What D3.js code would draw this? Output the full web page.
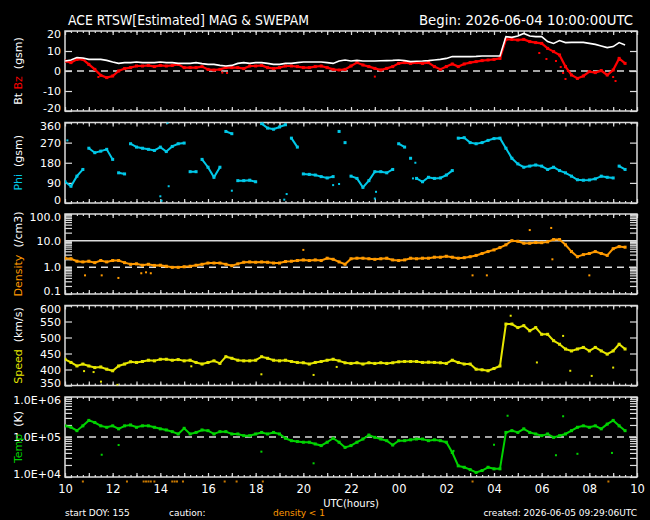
<!DOCTYPE html>
<html>
<head>
<meta charset="utf-8">
<script src="https://cdn.jsdelivr.net/npm/d3@7"></script>
<style>
  body { margin: 0; background: #000; }
  text { font-family: "DejaVu Sans", sans-serif; }
</style>
</head>
<body>
<div id="chart"></div>
<script>
// samples every 15 min from 10:00 UTC (hour 0) to 09:30 next day (hour 23.5)
const hours = d3.range(95).map(i => i * 0.25);

const btVals = [5, 5.5, 6.7, 6.5, 5.8, 5.8, 5.8, 5.3, 4.5, 3.8, 4.2, 4.2,
  4.5, 4.2, 4.2, 4.2, 4.5, 4.2, 4.2, 3.8, 3.8, 3.8, 4.2, 3.7,
  3.3, 3.3, 2.8, 2.5, 2.8, 3.8, 4.2, 3.8, 4.2, 4.2, 3.8, 3.3,
  3.3, 3.8, 3.8, 4.2, 4.5, 4.5, 4.5, 4.5, 4.2, 3.8, 5, 5.5,
  5, 5.3, 5, 5, 5, 5.1, 5.2, 5.3, 5.5, 5.2, 4.7, 4.9,
  5, 5.2, 5.5, 5.8, 6.3, 7.2, 7.2, 7.2, 7.2, 7.3, 7.5, 7.5,
  7.5, 7.5, 17.2, 16.8, 17.5, 18.8, 17.5, 17.2, 17.2, 14.7, 13.8, 15.2,
  14.2, 14.3, 14.3, 14.3, 13.8, 13.3, 12.5, 11.7, 12.2, 14.2, 13];

const bzVals = [5, 4.2, 5.8, 5.8, 3.3, 0.8, -2.2, -3.3, -2.5, 0, 1.2, 1.7,
  2.5, 2.5, 2.8, 2.2, 2.8, 2.5, 2.8, 3.3, 1.7, 1.7, 1.7, 2.2,
  0.8, 0.5, 0.8, 1.7, 1.7, 1.7, 1.2, 2.5, 2.5, 2.8, 1.7, 1.2,
  1.7, 2.5, 2.5, 2.2, 1.7, 1.7, 2.2, 2.5, 1.7, 0.8, 0.5, 0.8,
  2.5, 4.2, 3, 2.2, 1.3, 0.5, 1.3, 2.2, 3.8, 4.2, 3.8, 4.2,
  3.8, 4.2, 2.2, 0.8, 2.2, 3.5, 2.2, 3.5, 4.2, 4.7, 5.2, 5.5,
  5.8, 6.3, 15.8, 15.8, 15.5, 15.8, 14.7, 14.2, 13.8, 11.3, 9.7, 8,
  2.2, -2, -3.7, -2.5, -0.3, -0.8, 0.2, -2, 0.5, 6.3, 3.8];
const bzExtra = [[1.4, -3], [6.6, -0.8], [6.8, -1], [13.0, -2.8], [20.6, 5], [20.8, 2],
  [20.9, -1], [21.0, -4], [21.1, 0], [23.0, -3], [23.1, -5], [19.9, 9], [20.2, 6]];

const phiVals = [95, 75, 120, 150, 245, 225, 232, 240, 195, 135, 130, 265,
  250, 245, 240, 235, 250, 230, 253, 265, 268, 140, 140, 195,
  160, 115, 160, 320, 310, 100, 100, 102, 95, 355, 335, 330,
  340, 350, 290, 250, 130, 128, 125, 118, 112, 118, 320, 270,
  120, 110, 70, 100, 140, 140, 135, 150, 265, 250, 200, 110,
  95, 115, 110, 112, 125, 145, 290, 292, 270, 265, 270, 280,
  288, 290, 245, 200, 175, 160, 165, 170, 165, 150, 160, 145,
  135, 120, 104, 102, 103, 108, 120, 115, 112, 165, 150];
const phiExtra = [[0.1, 280], [4.0, 30], [4.05, 10], [4.3, 358], [4.35, 75], [7.0, 55],
  [8.3, 358], [9.2, 15], [9.3, 40], [11.25, 80], [11.5, 85], [13.0, 20], [13.05, 50], [14.6, 110], [14.7, 180]];

const densVals = [2.2, 2.1, 1.7, 1.6, 1.7, 1.5, 1.8, 1.6, 1.8, 1.8, 1.5, 1.3,
  1.35, 1.2, 1.3, 1.18, 1.2, 1.1, 1.0, 1.0, 1.05, 1.1, 1.2, 1.3,
  1.45, 1.45, 1.45, 1.3, 1.15, 1.35, 1.55, 1.6, 1.55, 1.6, 1.55, 1.45,
  1.45, 1.65, 1.7, 1.8, 1.9, 1.8, 1.9, 1.8, 2.2, 2.0, 1.6, 1.3,
  2.1, 2.2, 2.2, 2.1, 2.0, 2.1, 2.2, 1.9, 1.8, 1.9, 2.2, 2.1,
  2.2, 2.2, 2.4, 2.4, 2.6, 2.4, 2.2, 2.3, 2.5, 2.8, 3.3, 3.9,
  4.5, 5.5, 7, 10, 9.5, 8, 8, 8.5, 8.4, 9, 11, 11,
  7, 3.9, 2.5, 3.0, 3.3, 3.9, 3.3, 2.8, 5.0, 6.0, 5.7];
const densExtra = [[0.84, 0.5], [1.54, 0.5], [2.24, 0.4], [3.2, 0.6], [3.4, 0.65], [3.6, 0.6],
  [10.0, 4.5], [17.1, 0.5], [17.7, 0.5], [19.5, 25], [20.4, 30], [22.0, 0.5], [20.45, 2.0]];

const speedVals = [432, 422, 411, 417, 411, 406, 408, 401, 396, 411, 417, 424,
  422, 425, 429, 427, 432, 432, 429, 431, 427, 429, 422, 417,
  422, 427, 419, 440, 435, 429, 427, 427, 429, 440, 435, 429,
  427, 429, 425, 422, 421, 417, 422, 425, 429, 432, 427, 421,
  419, 421, 417, 421, 419, 421, 419, 421, 424, 425, 425, 425,
  422, 423, 422, 421, 419, 429, 422, 417, 417, 401, 399, 396,
  403, 411, 542, 542, 531, 537, 521, 531, 510, 510, 490, 479,
  464, 458, 464, 469, 458, 469, 458, 448, 458, 479, 464];
const speedExtra = [[1.51, 362], [2.2, 352], [8.24, 385], [10.43, 383], [19.8, 422], [22.1, 380],
  [18.7, 568], [20.9, 505], [21.2, 396], [23.0, 406], [0.8, 395], [1.2, 392], [5.3, 410], [11.4, 408]];

const tempVals = [1.9e5, 1.75e5, 1.44e5, 1.9e5, 2.6e5, 2.3e5, 1.9e5, 1.75e5, 1.9e5, 1.6e5, 1.9e5, 2.0e5,
  1.75e5, 1.9e5, 1.9e5, 1.75e5, 1.6e5, 1.5e5, 1.36e5, 1.19e5, 1.65e5, 1.19e5, 1.3e5, 1.5e5,
  1.44e5, 1.19e5, 1.36e5, 1.36e5, 1.19e5, 1.19e5, 1.08e5, 1.08e5, 1.19e5, 1.3e5, 1.19e5, 1.3e5,
  1.19e5, 9.3e4, 8.1e4, 7.7e4, 7.4e4, 7.4e4, 6.7e4, 6.1e4, 7.4e4, 9.3e4, 7.4e4, 5.5e4,
  6.1e4, 7.4e4, 8.9e4, 1.12e5, 9.8e4, 8.9e4, 8.1e4, 6.3e4, 8.1e4, 8.1e4, 8.5e4, 8.9e4,
  8.9e4, 8.1e4, 8.5e4, 8.1e4, 7.4e4, 4.1e4, 1.9e4, 1.75e4, 1.53e4, 1.3e4, 1.45e4, 1.75e4,
  1.6e4, 1.6e4, 1.3e5, 1.44e5, 1.3e5, 1.6e5, 1.3e5, 1.19e5, 1.08e5, 1.19e5, 9.8e4, 1.08e5,
  1.19e5, 1.44e5, 1.75e5, 1.9e5, 1.75e5, 1.9e5, 1.6e5, 2.1e5, 2.6e5, 1.9e5, 1.44e5];
const tempExtra = [[1.54, 3.6e4], [2.25, 6.3e4], [8.24, 4.3e4], [10.43, 2.2e4], [16.3, 4.5e4],
  [18.0, 6.4e4], [18.57, 3.4e5], [20.9, 3.3e5], [22.95, 4e4], [21.5, 3.8e4], [20.6, 3.5e4]];

// times flagged "density < 1" (orange marks under the bottom panel)
const cautionHours = [0.75, 2.6, 3.3, 3.4, 3.5, 3.6, 3.75, 4.5, 4.6, 4.7, 4.95, 6.7, 7.2, 8.3, 17.1, 22.8];

const btTicks = [-20, -10, 0, 10, 20];
const phiTicks = [0, 90, 180, 270, 360];
const densDecades = [0.1, 1, 10, 100];
const densLabels = ["0.1", "1.0", "10.0", "100.0"];
const speedTicks = [350, 400, 450, 500, 550, 600];
const tempDecades = [1e4, 1e5, 1e6];
const tempLabels = ["1.0E+04", "1.0E+05", "1.0E+06"];
const hourTicks = [0, 2, 4, 6, 8, 10, 12, 14, 16, 18, 20, 22, 24];
const hourLabels = ["10", "12", "14", "16", "18", "20", "22", "00", "02", "04", "06", "08", "10"];

const w = 650, h = 520;
const left = 65, right = 637;
const fg = "#dcdcdc";

const svg = d3.select("#chart").append("svg")
  .attr("width", w).attr("height", h)
  .style("background", "#000");

const x = d3.scaleLinear().domain([0, 24]).range([left, right]);

const panels = [
  {top: 31, bottom: 111},
  {top: 122.5, bottom: 203},
  {top: 214, bottom: 294},
  {top: 305.5, bottom: 385.5},
  {top: 397, bottom: 477}
];

const yBt = d3.scaleLinear().domain([-20, 20]).range([panels[0].bottom, panels[0].top]);
const yPhi = d3.scaleLinear().domain([0, 360]).range([panels[1].bottom, panels[1].top]);
const yDens = d3.scaleLog().domain([0.1, 100]).range([panels[2].bottom, panels[2].top]);
const ySpeed = d3.scaleLinear().domain([350, 600]).range([panels[3].bottom, panels[3].top]);
const yTemp = d3.scaleLog().domain([1e4, 1e6]).range([panels[4].bottom, panels[4].top]);

function minorLog(decades) {
  let out = [];
  decades.slice(0, -1).forEach(d => { for (let k = 2; k <= 9; k++) out.push(d * k); });
  return out;
}

function styleAxis(g) {
  g.select(".domain").remove();
  g.selectAll("line").attr("stroke", fg).attr("stroke-width", 1.2);
  g.selectAll("text").attr("fill", "#fff").attr("font-size", 11).attr("font-family", "DejaVu Sans");
}

function panelFrame(i, y, ticks, fmt) {
  const p = panels[i];
  const g = svg.append("g");
  const quarter = d3.range(0, 24.01, 0.25);
  const whole = d3.range(0, 25, 1);
  // top and bottom small ticks
  [[d3.axisTop, p.top], [d3.axisBottom, p.bottom]].forEach(([ax, yy]) => {
    g.append("g").attr("transform", `translate(0,${yy})`)
      .call(ax(x).tickValues(quarter).tickSize(-2).tickFormat(""))
      .call(styleAxis);
    g.append("g").attr("transform", `translate(0,${yy})`)
      .call(ax(x).tickValues(whole).tickSize(-4).tickFormat(""))
      .call(styleAxis);
  });
  const [lo, hi] = y.domain();
  g.append("g").attr("transform", `translate(${left},0)`)
    .call(d3.axisLeft(y).tickValues(ticks).tickSize(-7).tickPadding(4).tickFormat(fmt))
    .call(styleAxis)
    .selectAll("text")
    .attr("y", d => d === hi ? 3 : d === lo ? -3 : 0);
  g.append("g").attr("transform", `translate(${right},0)`)
    .call(d3.axisRight(y).tickValues(ticks).tickSize(-7).tickFormat(""))
    .call(styleAxis);
  g.append("rect")
    .attr("x", left).attr("y", p.top)
    .attr("width", right - left).attr("height", p.bottom - p.top)
    .attr("fill", "none").attr("stroke", fg).attr("stroke-width", 1.5);
  svg.append("clipPath").attr("id", "clip" + i)
    .append("rect").attr("x", left).attr("y", p.top)
    .attr("width", right - left).attr("height", p.bottom - p.top);
}

function refLine(y, v, dashed) {
  svg.append("line")
    .attr("x1", left).attr("x2", right)
    .attr("y1", y(v)).attr("y2", y(v))
    .attr("stroke", fg).attr("stroke-width", 1.5)
    .attr("stroke-dasharray", dashed ? "7,5" : null);
}

function trace(i, vals, extra, y, color, opts) {
  opts = opts || {};
  const g = svg.append("g").attr("clip-path", `url(#clip${i})`);
  const pts = hours.map((hr, k) => [hr, vals[k]]);
  // split into runs where the value jumps a lot (phi wraps)
  let runs = [[pts[0]]];
  for (let k = 1; k < pts.length; k++) {
    if (opts.breakAt && Math.abs(pts[k][1] - pts[k - 1][1]) > opts.breakAt) runs.push([]);
    runs[runs.length - 1].push(pts[k]);
  }
  const line = d3.line().x(d => x(d[0])).y(d => y(d[1]));
  runs.forEach(r => {
    g.append("path").datum(r).attr("d", line)
      .attr("fill", "none").attr("stroke", color)
      .attr("stroke-width", opts.width || 2)
      .attr("stroke-dasharray", opts.dash || null);
  });
  if (opts.dots !== false) {
    g.selectAll(null).data(pts).join("rect")
      .attr("x", d => x(d[0]) - 1.5).attr("y", d => y(d[1]) - 1.5)
      .attr("width", 3).attr("height", 3).attr("fill", color);
  }
  g.selectAll(null).data(extra || []).join("rect")
    .attr("x", d => x(d[0]) - 1).attr("y", d => y(d[1]) - 1)
    .attr("width", 2).attr("height", 2).attr("fill", color);
}

// frames and axes
panelFrame(0, yBt, btTicks, d => d);
panelFrame(1, yPhi, phiTicks, d => d);
panelFrame(2, yDens, densDecades.concat(minorLog(densDecades)),
  d => { const k = densDecades.indexOf(d); return k >= 0 ? densLabels[k] : ""; });
panelFrame(3, ySpeed, speedTicks, d => d);
panelFrame(4, yTemp, tempDecades.concat(minorLog(tempDecades)),
  d => { const k = tempDecades.indexOf(d); return k >= 0 ? tempLabels[k] : ""; });

refLine(yBt, 0, true);
refLine(yDens, 10, false);
refLine(yDens, 1, true);
refLine(yTemp, 1e5, true);

// data
trace(0, bzVals, bzExtra, yBt, "#ff0000", {width: 2.2});
trace(0, btVals, [], yBt, "#ffffff", {width: 1.6, dots: false});
trace(1, phiVals, phiExtra, yPhi, "#00c8e8", {width: 2, breakAt: 45});
trace(2, densVals, densExtra, yDens, "#ff9a00", {width: 2});
trace(3, speedVals, speedExtra, ySpeed, "#e6e600", {width: 2});
trace(4, tempVals, tempExtra, yTemp, "#00d200", {width: 2});

// hour labels on bottom panel
svg.append("g").attr("transform", `translate(0,${panels[4].bottom})`)
  .call(d3.axisBottom(x).tickValues(hourTicks).tickSize(0).tickPadding(8)
    .tickFormat((d, i) => hourLabels[i]))
  .call(styleAxis)
  .selectAll("text").attr("font-size", 11.5);

// orange caution marks
svg.append("g").selectAll("rect").data(cautionHours).join("rect")
  .attr("x", d => x(d) - 1).attr("y", 480.5)
  .attr("width", 2).attr("height", 2).attr("fill", "#c87800");

// titles
svg.append("text").attr("x", 68).attr("y", 25)
  .attr("fill", "#fff").attr("font-size", 14)
  .attr("textLength", 241).attr("lengthAdjust", "spacingAndGlyphs")
  .text("ACE RTSW[Estimated] MAG & SWEPAM");
svg.append("text").attr("x", 419).attr("y", 25)
  .attr("fill", "#fff").attr("font-size", 14)
  .attr("textLength", 214).attr("lengthAdjust", "spacingAndGlyphs")
  .text("Begin: 2026-06-04 10:00:00UTC");

// y axis titles
const yTitles = [
  [["Bt", "#fff"], [" Bz", "#ff0000"], ["  (gsm)", "#fff"]],
  [["Phi", "#00c8e8"], ["  (gsm)", "#fff"]],
  [["Density", "#ff9a00"], ["  (/cm3)", "#fff"]],
  [["Speed", "#e6e600"], ["  (km/s)", "#fff"]],
  [["Temp", "#00d200"], ["  (K)", "#fff"]]
];
yTitles.forEach((parts, i) => {
  const cy = (panels[i].top + panels[i].bottom) / 2;
  const t = svg.append("text")
    .attr("transform", `translate(22,${cy}) rotate(-90)`)
    .attr("text-anchor", "middle").attr("font-size", 11)
    .attr("xml:space", "preserve");
  parts.forEach(([s, c]) => t.append("tspan").attr("fill", c).text(s));
});

// footer
svg.append("text").attr("x", 351).attr("y", 507).attr("text-anchor", "middle")
  .attr("fill", "#fff").attr("font-size", 10).text("UTC(hours)");
svg.append("text").attr("x", 65).attr("y", 516)
  .attr("fill", "#fff").attr("font-size", 9).text("start DOY: 155");
svg.append("text").attr("x", 169).attr("y", 516)
  .attr("fill", "#fff").attr("font-size", 9).text("caution:");
svg.append("text").attr("x", 273).attr("y", 516)
  .attr("fill", "#ff9a00").attr("font-size", 9).text("density < 1");
svg.append("text").attr("x", 637).attr("y", 516).attr("text-anchor", "end")
  .attr("fill", "#fff").attr("font-size", 9).text("created: 2026-06-05 09:29:06UTC");
</script>
</body>
</html>
